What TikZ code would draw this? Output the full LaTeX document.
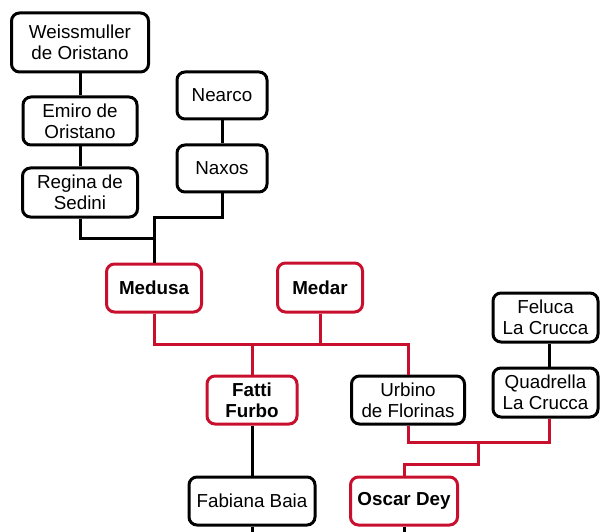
\documentclass[tikz,border=0pt]{standalone}
\usepackage{fontspec}
\setmainfont{Liberation Sans}
\definecolor{myred}{RGB}{200,16,46}
\begin{document}
\begin{tikzpicture}[x=1pt,y=-1pt,
  box/.style={draw=black, line width=3pt, rounded corners=8pt, fill=white, align=center,
    minimum height=48pt, inner sep=0pt, font=\fontsize{18.8}{21}\selectfont},
  redbox/.style={box, draw=myred, font=\fontsize{18.8}{21}\selectfont\bfseries},
  ln/.style={line width=3pt, draw=black},
  rln/.style={line width=3pt, draw=myred}]
\useasboundingbox (0,0) rectangle (600,532);
% nodes
\node[box, minimum width=137pt, minimum height=59pt] (wei) at (80,42.5) {Weissmuller\\de Oristano};
\node[box, minimum width=114pt] (emi) at (80,121) {Emiro de\\Oristano};
\node[box, minimum width=115pt, minimum height=49pt] (reg) at (80,192.5) {Regina de\\Sedini};
\node[box, minimum width=90pt, minimum height=47pt] (nea) at (222,95.5) {Nearco};
\node[box, minimum width=90pt, minimum height=47pt] (nax) at (222,168.5) {Naxos};
\node[redbox, minimum width=95pt] (med) at (154,288) {Medusa};
\node[redbox, minimum width=85pt, minimum height=49pt] (mdr) at (320,287.5) {Medar};
\node[box, minimum width=105pt, minimum height=49pt] (fel) at (545.5,317.5) {Feluca\\La Crucca};
\node[redbox, minimum width=90pt] (fat) at (252,400) {Fatti\\Furbo};
\node[box, minimum width=113pt] (urb) at (408,400) {Urbino\\de Florinas};
\node[box, minimum width=105pt, minimum height=49pt] (qua) at (545.5,392.5) {Quadrella\\La Crucca};
\node[box, minimum width=126pt] (fab) at (252,501) {Fabiana Baia};
\node[redbox, minimum width=107pt] (osc) at (404,501) {Oscar Dey};
% coordinates
\coordinate (j1) at (154,238);
\coordinate (j2) at (154,217);
\coordinate (j3) at (320,344);
\coordinate (qx) at (549,442);
\coordinate (j4) at (478,464);
\coordinate (bot) at (0,536);
% black connectors
\draw[ln] (wei.south) -- (emi.north);
\draw[ln] (emi.south) -- (reg.north);
\draw[ln] (nea.south) -- (nax.north);
\draw[ln] (reg.south) |- (j1);
\draw[ln] (nax.south) |- (j2) -- (med.north);
\draw[ln] (fat.south) -- (fab.north);
\draw[ln] (fel.south -| qx) -- (qua.north -| qx);
\draw[ln] (fab.south) -- (fab.south |- bot);
\draw[ln] (osc.south) -- (osc.south |- bot);
% red connectors
\draw[rln] (med.south) |- (urb.north |- j3) -- (urb.north);
\draw[rln] (mdr.south) -- (mdr.south |- j3);
\draw[rln] (fat.north) -- (fat.north |- j3);
\draw[rln] (urb.south) |- (qx) -- (qua.south -| qx);
\draw[rln] (j4 |- qx) -- (j4) -| (osc.north);
\end{tikzpicture}
\end{document}
